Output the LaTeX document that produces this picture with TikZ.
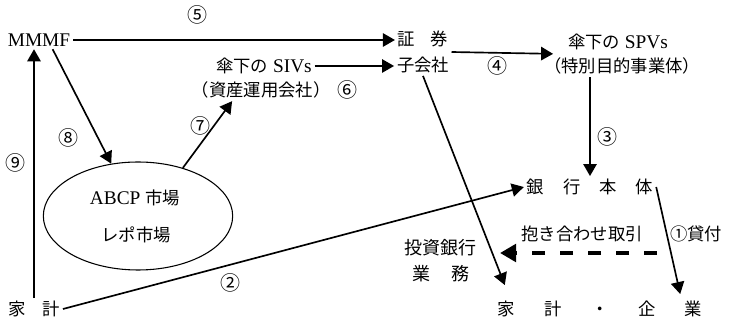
\documentclass[tikz,border=0pt]{standalone}
\usepackage{fontspec}
\setmainfont{Liberation Serif}
\newfontfamily\jp{Noto Sans CJK JP}
\usetikzlibrary{arrows.meta,shapes.geometric,calc}
\begin{document}
\begin{tikzpicture}[x=0.75pt,y=-0.75pt,
  every node/.style={inner sep=2pt, font=\fontsize{14.5}{16}\selectfont},
  arr/.style={line width=1.25pt, -{Triangle[length=9pt,width=10pt]}},
  dasharr/.style={line width=3pt, dash pattern=on 10pt off 11pt, -{Triangle[length=12pt,width=13pt]}},
  num/.style={font=\jp\fontsize{15}{16}\selectfont}]
\useasboundingbox (0,0) rectangle (730,323);

% nodes
\node (mmmf) at (39,40) {MMMF};
\node (sivs1) at (264,66) {{\jp\fontsize{13}{15}\selectfont 傘下の} SIVs};
\node (sivs2) at (261,90) {\jp\fontsize{13}{15}\selectfont （資産運用会社）};
\node (shoken1) at (423,39) {\jp\fontsize{13}{15}\selectfont 証\hspace{0.9em}券};
\node (shoken2) at (423,65) {\jp\fontsize{13}{15}\selectfont 子会社};
\node (spvs1) at (618,42) {{\jp\fontsize{13}{15}\selectfont 傘下の} SPVs};
\node (spvs2) at (622,66) {\jp\fontsize{13}{15}\selectfont （特別目的事業体）};
\node (ginko) at (590,187) {\jp\fontsize{13}{15}\selectfont 銀\hspace{1.1em}行\hspace{1.1em}本\hspace{1.1em}体};
\node[ellipse, draw, line width=0.8pt, minimum width=142pt, minimum height=81pt, align=center] (ell) at (138,216) {};
\node (abcp) at (135,198) {ABCP {\jp\fontsize{13}{15}\selectfont 市場}};
\node (repo) at (136,235) {\jp\fontsize{13}{15}\selectfont レポ市場};
\node (toushi1) at (440,248) {\jp\fontsize{13.5}{15}\selectfont 投資銀行};
\node (toushi2) at (441,274) {\jp\fontsize{13.5}{15}\selectfont 業\hspace{1.2em}務};
\node (daki) at (582,234) {\jp\fontsize{13}{15}\selectfont 抱き合わせ取引};
\node (kashi) at (696,234) {\jp\fontsize{13}{15}\selectfont ①貸付};
\node (kakei) at (34,309) {\jp\fontsize{13}{15}\selectfont 家\hspace{1em}計};
\node (kigyo) at (600,309) {\jp\fontsize{13}{15}\selectfont 家\hspace{1.7em}計\hspace{1.7em}・\hspace{1.7em}企\hspace{1.7em}業};

% number labels
\node[num] (n5) at (197,15) {⑤};
\node[num] (n6) at (347,90) {⑥};
\node[num] (n4) at (497,66) {④};
\node[num] (n3) at (607,137) {③};
\node[num] (n7) at (200,126) {⑦};
\node[num] (n8) at (68,138) {⑧};
\node[num] (n9) at (16,163) {⑨};
\node[num] (n2) at (230,283) {②};

% connectors
\draw[arr] (mmmf.east) -- (mmmf.east -| shoken1.west);
\draw[arr] (sivs1.east) -- (sivs1.east -| shoken2.west);
\draw[arr] ($(shoken1.south east)!0.5!(shoken2.north east)$) -- ($(spvs1.south west)!0.5!(spvs2.north west)$);
\draw[arr] (ginko.north |- spvs2.south) -- (ginko.north);
\draw[arr] (kakei.north) -- (kakei.north |- mmmf.south);
\draw[arr] ($(mmmf.south)!0.4!(mmmf.south east)$) -- (ell);
\draw[arr] (ell.47) -- ($(sivs2.south west)!0.3!(sivs2.south east)$);
\draw[arr] (kakei.east) -- (ginko.west);
\draw[arr] (shoken2.south) -- ($(kigyo.north west)+(10,-13)$);
\draw[arr] (ginko.east) -- ($(kigyo.north east)+(-25,-4)$);
\coordinate (dR) at (657,253);
\coordinate (dL) at (500,253);
\draw[dasharr] (dR) -- (dL);
\end{tikzpicture}
\end{document}
